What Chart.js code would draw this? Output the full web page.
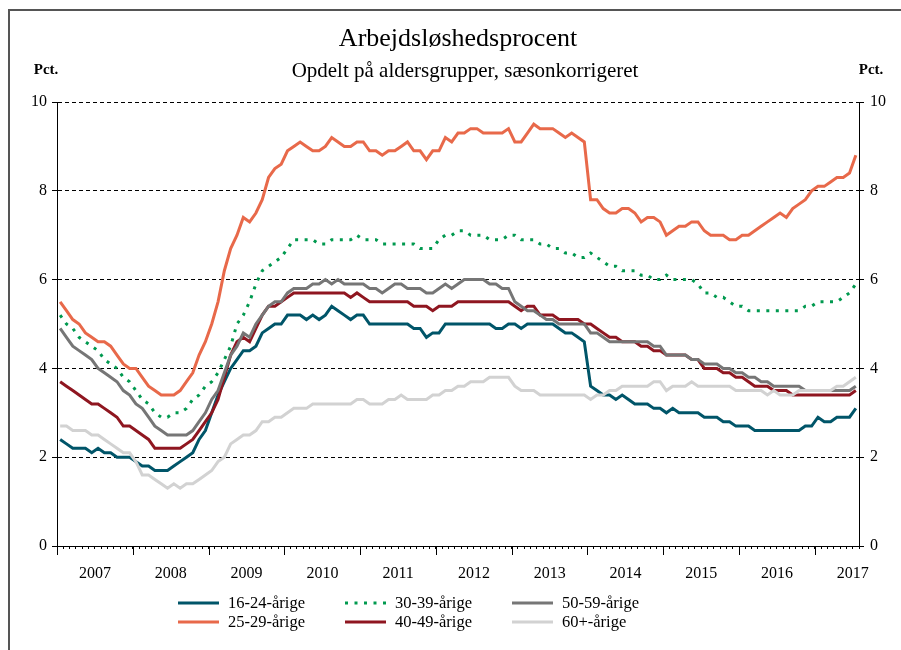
<!DOCTYPE html>
<html>
<head>
<meta charset="utf-8">
<script src="https://cdn.jsdelivr.net/npm/chart.js@4"></script>
<style>
    html, body { margin: 0; background: #fff; overflow: hidden; }
    #wrap { position: relative; width: 901px; height: 650px; }
</style>
</head>
<body>
<div id="wrap">
    <canvas id="ledighedChart"></canvas>
</div>
<script>
// Months Jan 2007 - Jul 2017
const months = [];
for (let y = 2007; y <= 2017; y++) {
    for (let m = 1; m <= 12; m++) {
        if (y === 2017 && m > 7) break;
        months.push(y + '-' + String(m).padStart(2, '0'));
    }
}

const seriesNames = ['16-24-årige', '25-29-årige', '30-39-årige', '40-49-årige', '50-59-årige', '60+-årige'];
const yTicks = [0, 2, 4, 6, 8, 10];

const age16to24 = [
    2.4, 2.3, 2.2, 2.2, 2.2, 2.1, 2.2, 2.1, 2.1, 2.0, 2.0, 2.0,
    1.9, 1.8, 1.8, 1.7, 1.7, 1.7, 1.8, 1.9, 2.0, 2.1, 2.4, 2.6,
    3.0, 3.4, 3.7, 4.0, 4.2, 4.4, 4.4, 4.5, 4.8, 4.9, 5.0, 5.0,
    5.2, 5.2, 5.2, 5.1, 5.2, 5.1, 5.2, 5.4, 5.3, 5.2, 5.1, 5.2,
    5.2, 5.0, 5.0, 5.0, 5.0, 5.0, 5.0, 5.0, 4.9, 4.9, 4.7, 4.8,
    4.8, 5.0, 5.0, 5.0, 5.0, 5.0, 5.0, 5.0, 5.0, 4.9, 4.9, 5.0,
    5.0, 4.9, 5.0, 5.0, 5.0, 5.0, 5.0, 4.9, 4.8, 4.8, 4.7, 4.6,
    3.6, 3.5, 3.4, 3.4, 3.3, 3.4, 3.3, 3.2, 3.2, 3.2, 3.1, 3.1,
    3.0, 3.1, 3.0, 3.0, 3.0, 3.0, 2.9, 2.9, 2.9, 2.8, 2.8, 2.7,
    2.7, 2.7, 2.6, 2.6, 2.6, 2.6, 2.6, 2.6, 2.6, 2.6, 2.7, 2.7,
    2.9, 2.8, 2.8, 2.9, 2.9, 2.9, 3.1
];
const age25to29 = [
    5.5, 5.3, 5.1, 5.0, 4.8, 4.7, 4.6, 4.6, 4.5, 4.3, 4.1, 4.0,
    4.0, 3.8, 3.6, 3.5, 3.4, 3.4, 3.4, 3.5, 3.7, 3.9, 4.3, 4.6,
    5.0, 5.5, 6.2, 6.7, 7.0, 7.4, 7.3, 7.5, 7.8, 8.3, 8.5, 8.6,
    8.9, 9.0, 9.1, 9.0, 8.9, 8.9, 9.0, 9.2, 9.1, 9.0, 9.0, 9.1,
    9.1, 8.9, 8.9, 8.8, 8.9, 8.9, 9.0, 9.1, 8.9, 8.9, 8.7, 8.9,
    8.9, 9.2, 9.1, 9.3, 9.3, 9.4, 9.4, 9.3, 9.3, 9.3, 9.3, 9.4,
    9.1, 9.1, 9.3, 9.5, 9.4, 9.4, 9.4, 9.3, 9.2, 9.3, 9.2, 9.1,
    7.8, 7.8, 7.6, 7.5, 7.5, 7.6, 7.6, 7.5, 7.3, 7.4, 7.4, 7.3,
    7.0, 7.1, 7.2, 7.2, 7.3, 7.3, 7.1, 7.0, 7.0, 7.0, 6.9, 6.9,
    7.0, 7.0, 7.1, 7.2, 7.3, 7.4, 7.5, 7.4, 7.6, 7.7, 7.8, 8.0,
    8.1, 8.1, 8.2, 8.3, 8.3, 8.4, 8.8
];
const age30to39 = [
    5.2, 5.0, 4.9, 4.7, 4.6, 4.5, 4.4, 4.2, 4.1, 4.0, 3.8, 3.7,
    3.5, 3.3, 3.2, 3.0, 2.9, 2.9, 3.0, 3.0, 3.1, 3.3, 3.4, 3.6,
    3.7, 3.9, 4.2, 4.5, 5.0, 5.2, 5.5, 5.9, 6.2, 6.3, 6.4, 6.5,
    6.7, 6.9, 6.9, 6.9, 6.9, 6.8, 6.8, 6.9, 6.9, 6.9, 6.9, 7.0,
    6.9, 6.9, 6.9, 6.8, 6.8, 6.8, 6.8, 6.8, 6.8, 6.7, 6.7, 6.7,
    6.9, 7.0, 7.0, 7.1, 7.1, 7.0, 7.0, 7.0, 6.9, 6.9, 6.9, 7.0,
    7.0, 6.9, 6.9, 6.9, 6.8, 6.8, 6.7, 6.7, 6.6, 6.6, 6.5, 6.5,
    6.6, 6.5, 6.4, 6.3, 6.3, 6.2, 6.2, 6.2, 6.1, 6.1, 6.0, 6.0,
    6.1, 6.0, 6.0, 6.0, 6.0, 5.9, 5.7, 5.7, 5.6, 5.6, 5.5, 5.4,
    5.4, 5.3, 5.3, 5.3, 5.3, 5.3, 5.3, 5.3, 5.3, 5.3, 5.4, 5.4,
    5.5, 5.5, 5.5, 5.5, 5.6, 5.7, 5.9
];
const age40to49 = [
    3.7, 3.6, 3.5, 3.4, 3.3, 3.2, 3.2, 3.1, 3.0, 2.9, 2.7, 2.7,
    2.6, 2.5, 2.4, 2.2, 2.2, 2.2, 2.2, 2.2, 2.3, 2.4, 2.6, 2.8,
    3.0, 3.3, 3.8, 4.3, 4.6, 4.7, 4.6, 4.9, 5.2, 5.4, 5.4, 5.5,
    5.6, 5.7, 5.7, 5.7, 5.7, 5.7, 5.7, 5.7, 5.7, 5.7, 5.6, 5.7,
    5.6, 5.5, 5.5, 5.5, 5.5, 5.5, 5.5, 5.5, 5.4, 5.4, 5.4, 5.3,
    5.4, 5.4, 5.4, 5.5, 5.5, 5.5, 5.5, 5.5, 5.5, 5.5, 5.5, 5.5,
    5.4, 5.3, 5.4, 5.4, 5.2, 5.2, 5.2, 5.1, 5.1, 5.1, 5.1, 5.0,
    5.0, 4.9, 4.8, 4.7, 4.7, 4.6, 4.6, 4.6, 4.5, 4.5, 4.4, 4.4,
    4.3, 4.3, 4.3, 4.3, 4.2, 4.2, 4.0, 4.0, 4.0, 3.9, 3.9, 3.8,
    3.8, 3.7, 3.6, 3.6, 3.6, 3.5, 3.5, 3.5, 3.4, 3.4, 3.4, 3.4,
    3.4, 3.4, 3.4, 3.4, 3.4, 3.4, 3.5
];
const age50to59 = [
    4.9, 4.7, 4.5, 4.4, 4.3, 4.2, 4.0, 3.9, 3.8, 3.7, 3.5, 3.4,
    3.2, 3.1, 2.9, 2.7, 2.6, 2.5, 2.5, 2.5, 2.5, 2.6, 2.8, 3.0,
    3.3, 3.5, 3.9, 4.3, 4.5, 4.8, 4.7, 5.0, 5.2, 5.4, 5.5, 5.5,
    5.7, 5.8, 5.8, 5.8, 5.9, 5.9, 6.0, 5.9, 6.0, 5.9, 5.9, 5.9,
    5.9, 5.8, 5.8, 5.7, 5.8, 5.9, 5.9, 5.8, 5.8, 5.8, 5.7, 5.7,
    5.8, 5.9, 5.8, 5.9, 6.0, 6.0, 6.0, 6.0, 5.9, 5.9, 5.8, 5.8,
    5.5, 5.4, 5.3, 5.3, 5.2, 5.1, 5.1, 5.0, 5.0, 5.0, 5.0, 5.0,
    4.8, 4.8, 4.7, 4.6, 4.6, 4.6, 4.6, 4.6, 4.6, 4.6, 4.5, 4.5,
    4.3, 4.3, 4.3, 4.3, 4.2, 4.2, 4.1, 4.1, 4.1, 4.0, 4.0, 3.9,
    3.9, 3.8, 3.8, 3.7, 3.7, 3.6, 3.6, 3.6, 3.6, 3.6, 3.5, 3.5,
    3.5, 3.5, 3.5, 3.5, 3.5, 3.5, 3.6
];
const age60plus = [
    2.7, 2.7, 2.6, 2.6, 2.6, 2.5, 2.5, 2.4, 2.3, 2.2, 2.1, 2.1,
    1.9, 1.6, 1.6, 1.5, 1.4, 1.3, 1.4, 1.3, 1.4, 1.4, 1.5, 1.6,
    1.7, 1.9, 2.0, 2.3, 2.4, 2.5, 2.5, 2.6, 2.8, 2.8, 2.9, 2.9,
    3.0, 3.1, 3.1, 3.1, 3.2, 3.2, 3.2, 3.2, 3.2, 3.2, 3.2, 3.3,
    3.3, 3.2, 3.2, 3.2, 3.3, 3.3, 3.4, 3.3, 3.3, 3.3, 3.3, 3.4,
    3.4, 3.5, 3.5, 3.6, 3.6, 3.7, 3.7, 3.7, 3.8, 3.8, 3.8, 3.8,
    3.6, 3.5, 3.5, 3.5, 3.4, 3.4, 3.4, 3.4, 3.4, 3.4, 3.4, 3.4,
    3.3, 3.4, 3.4, 3.5, 3.5, 3.6, 3.6, 3.6, 3.6, 3.6, 3.7, 3.7,
    3.5, 3.6, 3.6, 3.6, 3.7, 3.6, 3.6, 3.6, 3.6, 3.6, 3.6, 3.5,
    3.5, 3.5, 3.5, 3.5, 3.4, 3.5, 3.4, 3.4, 3.4, 3.5, 3.5, 3.5,
    3.5, 3.5, 3.5, 3.6, 3.6, 3.7, 3.8
];

const serif = "'Liberation Serif', 'Times New Roman', serif";
const colors = ['#005569', '#e8694a', '#00994f', '#8f1620', '#767676', '#d2d2d2'];
const values = [age16to24, age25to29, age30to39, age40to49, age50to59, age60plus];

const datasets = values.map((vals, i) => ({
    label: seriesNames[i],
    data: vals,
    borderColor: colors[i],
    backgroundColor: colors[i],
    borderWidth: 3,
    borderDash: i === 2 ? [3, 6.5] : [],
    pointRadius: 0,
    tension: 0,
    fill: false,
    order: values.length - i
}));

// Frame, titles, "Pct." labels, year ticks and the legend
const decorPlugin = {
    id: 'decor',
    beforeDraw(chart) {
        const ctx = chart.ctx;
        ctx.save();
        ctx.strokeStyle = '#555';
        ctx.lineWidth = 2;
        ctx.beginPath();
        ctx.moveTo(9, chart.height);
        ctx.lineTo(9, 10);
        ctx.lineTo(chart.width, 10);
        ctx.stroke();
        ctx.restore();
    },
    afterDraw(chart) {
        const ctx = chart.ctx;
        const xs = chart.scales.x;
        const area = chart.chartArea;
        ctx.save();
        ctx.fillStyle = '#000';
        ctx.textBaseline = 'alphabetic';
        ctx.textAlign = 'center';
        ctx.font = '26px ' + serif;
        ctx.fillText('Arbejdsløshedsprocent', 458, 46);
        ctx.font = '21px ' + serif;
        ctx.fillText('Opdelt på aldersgrupper, sæsonkorrigeret', 465, 77);
        ctx.font = 'bold 15px ' + serif;
        ctx.fillText('Pct.', 46, 74);
        ctx.fillText('Pct.', 871, 74);

        // longer ticks at year boundaries
        const half = (xs.getPixelForValue(1) - xs.getPixelForValue(0)) / 2;
        ctx.strokeStyle = '#000';
        ctx.lineWidth = 1;
        months.forEach((m, i) => {
            if (m.endsWith('-01')) {
                const x = Math.round(xs.getPixelForValue(i) - half) + 0.5;
                ctx.beginPath();
                ctx.moveTo(x, area.bottom);
                ctx.lineTo(x, area.bottom + 9);
                ctx.stroke();
            }
        });

        // legend, three columns of two
        ctx.textAlign = 'left';
        ctx.textBaseline = 'middle';
        ctx.font = '16.5px ' + serif;
        chart.data.datasets.forEach((ds, i) => {
            const lx = 178 + Math.floor(i / 2) * 167;
            const ly = 603 + (i % 2) * 19;
            ctx.strokeStyle = ds.borderColor;
            ctx.lineWidth = ds.borderWidth;
            ctx.setLineDash(ds.borderDash);
            ctx.beginPath();
            ctx.moveTo(lx, ly);
            ctx.lineTo(lx + 41, ly);
            ctx.stroke();
            ctx.setLineDash([]);
            ctx.fillStyle = '#000';
            ctx.fillText(ds.label, lx + 50, ly + 1);
        });
        ctx.restore();
    }
};

new Chart(document.getElementById('ledighedChart'), {
    type: 'line',
    data: {
        labels: months,
        datasets: datasets
    },
    options: {
        responsive: true,
        maintainAspectRatio: false,
        animation: false,
        layout: { padding: { top: 102, left: 0, right: 0, bottom: 0 } },
        plugins: {
            legend: { display: false },
            tooltip: { enabled: false },
            title: { display: false }
        },
        scales: {
            x: {
                type: 'category',
                offset: true,
                grid: { display: true, drawOnChartArea: false, offset: true, tickLength: 3, color: '#000', lineWidth: 1 },
                border: { display: true, color: '#000', width: 1 },
                ticks: {
                    autoSkip: false,
                    maxRotation: 0,
                    minRotation: 0,
                    padding: 15,
                    labelOffset: -3,
                    color: '#000',
                    font: { family: serif, size: 16 },
                    callback: function (val) {
                        const lab = this.getLabelForValue(val);
                        return lab.endsWith('-07') ? lab.slice(0, 4) : '';
                    }
                },
                afterFit: s => { s.height = 104; }
            },
            y: {
                position: 'left',
                min: 0,
                max: 10,
                afterBuildTicks: s => { s.ticks = yTicks.map(v => ({ value: v })); },
                grid: { color: '#000', lineWidth: 1, tickLength: 5 },
                border: { display: true, color: '#000', width: 1, dash: [4, 3] },
                ticks: { color: '#000', padding: 5, font: { family: serif, size: 16 } },
                afterFit: s => { s.width = 57; }
            },
            y1: {
                position: 'right',
                min: 0,
                max: 10,
                afterBuildTicks: s => { s.ticks = yTicks.map(v => ({ value: v })); },
                grid: { drawOnChartArea: false, color: '#000', lineWidth: 1, tickLength: 5 },
                border: { display: true, color: '#000', width: 1 },
                ticks: { color: '#000', padding: 6, font: { family: serif, size: 16 } },
                afterFit: s => { s.width = 42; }
            }
        }
    },
    plugins: [decorPlugin]
});
</script>
</body>
</html>
